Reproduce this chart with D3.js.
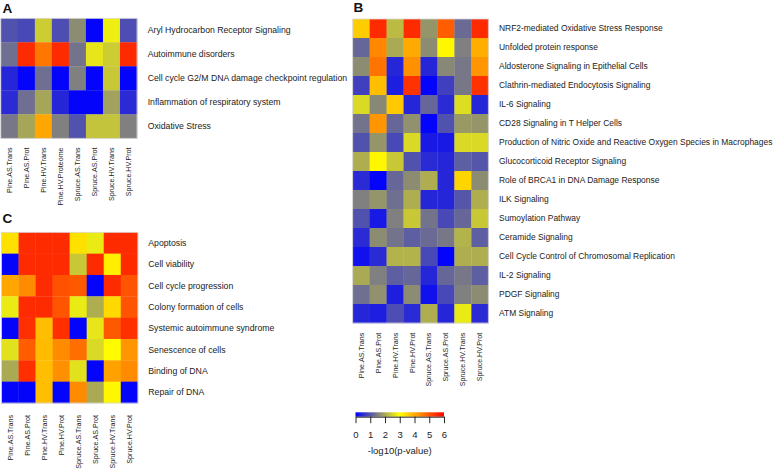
<!DOCTYPE html>
<html>
<head>
<meta charset="utf-8">
<script src="https://cdn.jsdelivr.net/npm/d3@7"></script>
<style>
  html, body { margin: 0; padding: 0; background: #fff; }
  svg { display: block; font-family: "Liberation Sans", Arial, Helvetica, sans-serif; }
</style>
</head>
<body>
<svg id="chart" width="778" height="471"></svg>
<script>
// ---------------- DATA ----------------
const colsA = ["Pine.AS.Trans", "Pine.AS.Prot", "Pine.HV.Trans", "Pine.HV.Proteome",
               "Spruce.AS.Trans", "Spruce.AS.Prot", "Spruce.HV.Trans", "Spruce.HV.Prot"];
const colsBC = ["Pine.AS.Trans", "Pine.AS.Prot", "Pine.HV.Trans", "Pine.HV.Prot",
                "Spruce.AS.Trans", "Spruce.AS.Prot", "Spruce.HV.Trans", "Spruce.HV.Prot"];

const rowsA = ["Aryl Hydrocarbon Receptor Signaling", "Autoimmune disorders",
               "Cell cycle G2/M DNA damage checkpoint regulation",
               "Inflammation of respiratory system", "Oxidative Stress"];
const valuesA = [
  [0.95, 0.85, 2.4, 0.9, 1.65, 0.05, 2.8, 0.9],
  [1.3, 5.5, 4.6, 5.5, 1.35, 2.7, 2.4, 5.5],
  [0.45, 0.05, 1.3, 0.05, 1.5, 0.05, 2.35, 0.05],
  [0.5, 1.3, 1.95, 0.45, 0.05, 0.05, 1.9, 0.5],
  [1.4, 1.95, 4.05, 1.5, 0.95, 2.3, 2.3, 1.5]
];

const rowsB = ["NRF2-mediated Oxidative Stress Response", "Unfolded protein response",
  "Aldosterone Signaling in Epithelial Cells", "Clathrin-mediated Endocytosis Signaling",
  "IL-6 Signaling", "CD28 Signaling in T Helper Cells",
  "Production of Nitric Oxide and Reactive Oxygen Species in Macrophages",
  "Glucocorticoid Receptor Signaling", "Role of BRCA1 in DNA Damage Response",
  "ILK Signaling", "Sumoylation Pathway", "Ceramide Signaling",
  "Cell Cycle Control of Chromosomal Replication", "IL-2 Signaling",
  "PDGF Signaling", "ATM Signaling"];
const valuesB = [
  [3.6, 5.5, 2.2, 5.5, 1.75, 4.9, 1.25, 5.5],
  [1.2, 4.4, 2.0, 4.0, 1.65, 3.1, 1.5, 3.95],
  [1.65, 4.65, 0.45, 4.3, 0.45, 1.6, 1.4, 4.25],
  [0.75, 3.75, 0.35, 5.4, 0.05, 0.75, 1.4, 5.4],
  [2.55, 1.6, 3.65, 0.45, 1.2, 0.5, 2.6, 0.45],
  [1.35, 4.25, 1.2, 1.7, 0.05, 0.95, 1.8, 1.75],
  [0.95, 1.75, 0.85, 2.55, 0.3, 0.3, 2.55, 2.55],
  [2.05, 3.1, 2.35, 0.95, 0.5, 0.45, 1.1, 1.0],
  [0.5, 0.05, 1.2, 1.65, 2.05, 0.45, 3.5, 1.65],
  [1.5, 1.75, 1.3, 2.05, 0.45, 0.45, 1.0, 2.05],
  [0.95, 0.3, 1.5, 2.35, 1.35, 0.85, 1.2, 2.35],
  [0.5, 1.65, 1.35, 1.1, 1.25, 1.4, 2.1, 1.1],
  [0.2, 0.5, 2.1, 2.1, 0.85, 0.05, 2.05, 2.05],
  [2.0, 1.5, 1.1, 1.2, 0.45, 1.2, 1.4, 1.1],
  [1.3, 1.7, 0.35, 1.65, 0.2, 0.85, 1.5, 1.65],
  [0.45, 0.35, 0.9, 0.5, 2.05, 0.45, 2.75, 0.5]
];

const rowsC = ["Apoptosis", "Cell viability", "Cell cycle progression",
  "Colony formation of cells", "Systemic autoimmune syndrome",
  "Senescence of cells", "Binding of DNA", "Repair of DNA"];
const valuesC = [
  [3.35, 5.5, 5.5, 5.5, 3.35, 2.75, 5.5, 5.5],
  [0.05, 5.5, 5.5, 5.5, 2.35, 5.5, 3.2, 5.5],
  [4.05, 4.35, 5.5, 5.05, 4.95, 0.05, 5.5, 5.0],
  [2.75, 5.5, 5.5, 5.0, 2.75, 2.05, 3.45, 5.0],
  [0.05, 5.45, 3.75, 5.45, 0.05, 2.7, 4.95, 5.45],
  [2.65, 4.9, 3.8, 4.35, 4.7, 2.55, 3.05, 4.25],
  [2.0, 5.45, 3.75, 4.3, 2.65, 0.05, 4.1, 4.35],
  [0.05, 0.05, 3.75, 0.05, 4.35, 2.0, 3.1, 0.05]
];

const legendTicks = [0, 1, 2, 3, 4, 5, 6];
const legendTitle = "-log10(p-value)";

// ---------------- DRAWING ----------------
const svg = d3.select("#chart");
const color = d3.scaleLinear()
  .domain([0, 3, 6])
  .range(["#0000ff", "#ffff00", "#ff0000"])
  .interpolate(d3.interpolateRgb)
  .clamp(true);

const textColor = "#222";

function heatmap(cfg) {
  const g = svg.append("g");
  const x = d3.scaleBand().domain(d3.range(cfg.cols.length)).range([cfg.x0, cfg.x1]);
  const y = d3.scaleBand().domain(d3.range(cfg.rows.length)).range([cfg.y0, cfg.y1]);

  cfg.values.forEach((row, ri) => {
    g.selectAll(null).data(row).enter().append("rect")
      .attr("x", (d, ci) => x(ci))
      .attr("y", y(ri))
      .attr("width", x.bandwidth() + 0.3)
      .attr("height", y.bandwidth() + 0.3)
      .attr("fill", d => color(d));
  });

  g.append("rect")
    .attr("x", cfg.x0).attr("y", cfg.y0)
    .attr("width", cfg.x1 - cfg.x0).attr("height", cfg.y1 - cfg.y0)
    .attr("fill", "none").attr("stroke", "#d8d8d8").attr("stroke-width", 0.8);

  // row labels
  g.selectAll(null).data(cfg.rows).enter().append("text")
    .attr("x", cfg.labelX)
    .attr("y", (d, i) => y(i) + y.bandwidth() / 2)
    .attr("dy", "0.35em")
    .attr("font-size", cfg.rowFont)
    .attr("fill", textColor)
    .text(d => d);

  // column labels
  g.selectAll(null).data(cfg.cols).enter().append("text")
    .attr("transform", (d, i) => `translate(${x(i) + x.bandwidth() / 2},${cfg.colLabelTop}) rotate(-90)`)
    .attr("text-anchor", "end")
    .attr("dy", "0.35em")
    .attr("font-size", cfg.colFont)
    .attr("fill", textColor)
    .text(d => d);

  // panel letter
  svg.append("text")
    .attr("x", cfg.letterX).attr("y", cfg.letterY)
    .attr("font-size", 13.5).attr("font-weight", "bold")
    .attr("fill", "#111")
    .text(cfg.letter);
}

heatmap({ letter: "A", letterX: 2.5, letterY: 12.8,
  rows: rowsA, cols: colsA, values: valuesA,
  x0: 0.8, x1: 137, y0: 18.3, y1: 138.3,
  labelX: 147.7, rowFont: 8.7, colFont: 7.1, colLabelTop: 147.5 });

heatmap({ letter: "B", letterX: 353.5, letterY: 11.5,
  rows: rowsB, cols: colsBC, values: valuesB,
  x0: 352.7, x1: 488.3, y0: 19, y1: 323,
  labelX: 499, rowFont: 8.45, colFont: 7.1, colLabelTop: 332.7 });

heatmap({ letter: "C", letterX: 2.5, letterY: 222.5,
  rows: rowsC, cols: colsBC, values: valuesC,
  x0: 1.5, x1: 137.8, y0: 232.3, y1: 403,
  labelX: 148.3, rowFont: 8.7, colFont: 7.1, colLabelTop: 415 });

// ---------------- LEGEND ----------------
const lx = d3.scaleLinear().domain([0, 6]).range([355.5, 444]);
const defs = svg.append("defs");
const grad = defs.append("linearGradient").attr("id", "lg")
  .attr("x1", "0%").attr("x2", "100%").attr("y1", "0%").attr("y2", "0%");
d3.range(0, 6.01, 0.25).forEach(v => {
  grad.append("stop").attr("offset", (v / 6 * 100) + "%").attr("stop-color", color(v));
});
svg.append("rect")
  .attr("x", lx(0)).attr("y", 412.3)
  .attr("width", lx(6) - lx(0)).attr("height", 4.4)
  .attr("fill", "url(#lg)");

const axis = d3.axisBottom(lx).tickValues(legendTicks).tickFormat(d3.format("d"))
  .tickSize(6.5).tickSizeOuter(0).tickPadding(8);
const ag = svg.append("g").attr("transform", "translate(0,416.7)").call(axis);
ag.select(".domain").attr("stroke", "#111").attr("stroke-width", 0.9);
ag.selectAll(".tick line").attr("stroke", "#111").attr("stroke-width", 0.9);
ag.selectAll(".tick text").attr("font-size", 9.5).attr("fill", textColor)
  .attr("font-family", "Liberation Sans, Arial, sans-serif");

svg.append("text")
  .attr("x", (lx(0) + lx(6)) / 2).attr("y", 453.8)
  .attr("text-anchor", "middle")
  .attr("font-size", 9.5).attr("fill", textColor)
  .text(legendTitle);
</script>
</body>
</html>
